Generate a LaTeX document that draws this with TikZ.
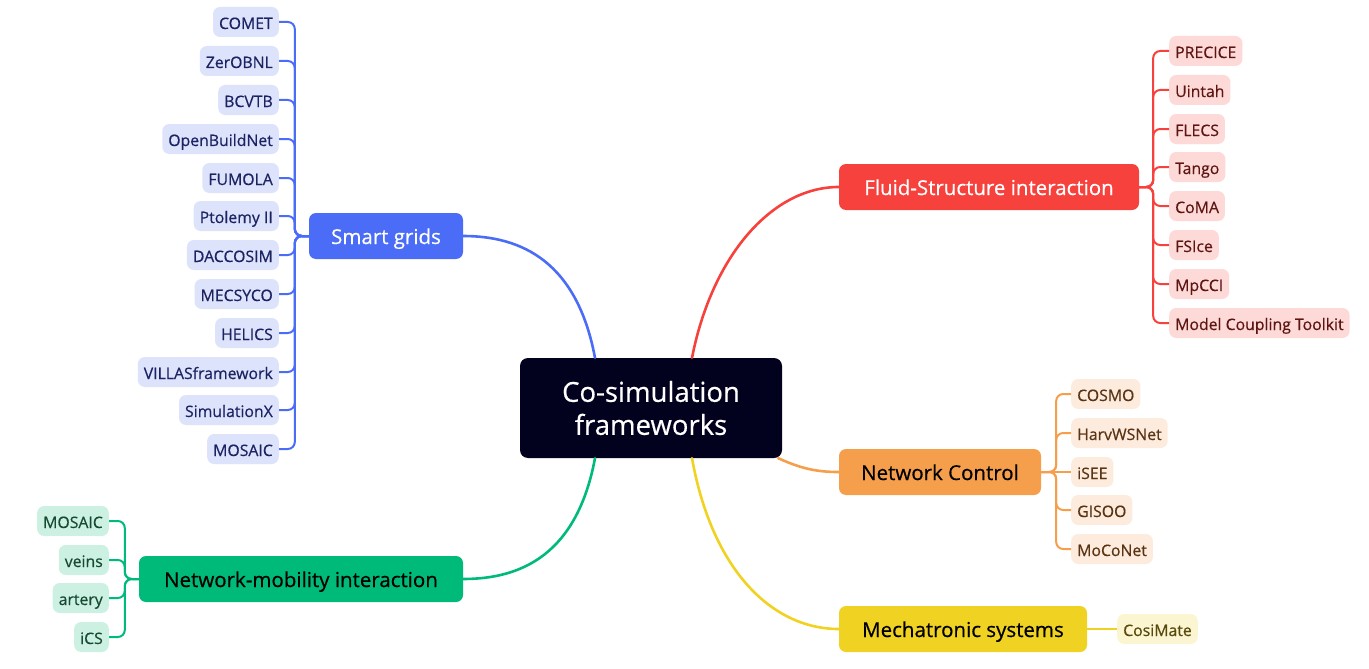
\documentclass[tikz,border=0pt]{standalone}
\usepackage{fontspec}
\setmainfont{Open Sans}[FakeBold=0.5]
\usetikzlibrary{calc}
\definecolor{navy}{HTML}{02021F}
\definecolor{sgblue}{HTML}{4A6CF7}
\definecolor{sgleaf}{HTML}{DDE3FB}
\definecolor{sgtext}{HTML}{1B2363}
\definecolor{fsired}{HTML}{F7413C}
\definecolor{fsileaf}{HTML}{FDDAD8}
\definecolor{fsitext}{HTML}{5E1512}
\definecolor{ncorange}{HTML}{F59F4C}
\definecolor{ncleaf}{HTML}{FDEBDD}
\definecolor{nctext}{HTML}{5A3413}
\definecolor{mechyellow}{HTML}{F0D322}
\definecolor{mechleaf}{HTML}{FCF5D2}
\definecolor{mechtext}{HTML}{574A0C}
\definecolor{nmigreen}{HTML}{00BA7A}
\definecolor{nmileaf}{HTML}{CCF1E3}
\definecolor{nmitext}{HTML}{164A33}
\tikzset{
  root/.style={
    fill=navy,
    text=white,
    rounded corners=8pt,
    align=center,
    minimum width=262pt,
    minimum height=100pt,
    font=\fontsize{27.5}{33}\selectfont
  },
  branch/.style={
    rounded corners=7pt,
    minimum height=46pt,
    inner sep=0pt,
    text height=18pt,
    text depth=2pt,
    font=\fontsize{20.5}{24}\selectfont
  },
  leaf/.style={
    rounded corners=7pt,
    minimum height=30pt,
    inner xsep=6pt,
    inner ysep=0pt,
    text height=15pt,
    text depth=1pt,
    font=\fontsize{15.8}{19}\selectfont
  },
  sgleafbox/.style={leaf, fill=sgleaf, text=sgtext, anchor=east},
  fsileafbox/.style={leaf, fill=fsileaf, text=fsitext, anchor=west},
  ncleafbox/.style={leaf, fill=ncleaf, text=nctext, anchor=west},
  mechleafbox/.style={leaf, fill=mechleaf, text=mechtext, anchor=west},
  nmileafbox/.style={leaf, fill=nmileaf, text=nmitext, anchor=east},
  mainline/.style={line width=2.6pt, line cap=round},
  leafline/.style={line width=2pt, rounded corners=7pt}
}

\begin{document}
\begin{tikzpicture}[x=1pt, y=-1pt]
\useasboundingbox (0,0) rectangle (1369,669);

\node[root] (centre) at (651,408) {Co-simulation\\frameworks};

% First-level topics
\node[branch, fill=sgblue, text=white, minimum width=154pt] (sg) at (386,236) {Smart grids};
\node[branch, fill=fsired, text=white, minimum width=300pt] (fsi) at (989,187) {Fluid-Structure interaction};
\node[branch, fill=ncorange, text=black, minimum width=202pt] (nc) at (940,472) {Network Control};
\node[branch, fill=mechyellow, text=black, minimum width=248pt] (mech) at (963,629) {Mechatronic systems};
\node[branch, fill=nmigreen, text=black, minimum width=324pt] (nmi) at (301,579) {Network-mobility interaction};

% Smart grids tools
\node[sgleafbox] (sg1) at (279,22) {COMET};
\node[sgleafbox] (sg2) at (279,61) {ZerOBNL};
\node[sgleafbox] (sg3) at (279,100) {BCVTB};
\node[sgleafbox] (sg4) at (279,139) {OpenBuildNet};
\node[sgleafbox] (sg5) at (279,178) {FUMOLA};
\node[sgleafbox] (sg6) at (279,216) {Ptolemy II};
\node[sgleafbox] (sg7) at (279,255) {DACCOSIM};
\node[sgleafbox] (sg8) at (279,294) {MECSYCO};
\node[sgleafbox] (sg9) at (279,333) {HELICS};
\node[sgleafbox] (sg10) at (279,372) {VILLASframework};
\node[sgleafbox] (sg11) at (279,410) {SimulationX};
\node[sgleafbox] (sg12) at (279,449) {MOSAIC};

% Fluid-structure tools
\node[fsileafbox] (fsi1) at (1169,51) {PRECICE};
\node[fsileafbox] (fsi2) at (1169,90) {Uintah};
\node[fsileafbox] (fsi3) at (1169,129) {FLECS};
\node[fsileafbox] (fsi4) at (1169,167) {Tango};
\node[fsileafbox] (fsi5) at (1169,206) {CoMA};
\node[fsileafbox] (fsi6) at (1169,245) {FSIce};
\node[fsileafbox] (fsi7) at (1169,284) {MpCCI};
\node[fsileafbox] (fsi8) at (1169,323) {Model Coupling Toolkit};

% Network control tools
\node[ncleafbox] (nc1) at (1071,394) {COSMO};
\node[ncleafbox] (nc2) at (1071,433) {HarvWSNet};
\node[ncleafbox] (nc3) at (1071,472) {iSEE};
\node[ncleafbox] (nc4) at (1071,510) {GISOO};
\node[ncleafbox] (nc5) at (1071,549) {MoCoNet};

% Mechatronic tools
\node[mechleafbox] (mech1) at (1117,629) {CosiMate};

% Network-mobility tools
\node[nmileafbox] (nmi1) at (109,521) {MOSAIC};
\node[nmileafbox] (nmi2) at (109,560) {veins};
\node[nmileafbox] (nmi3) at (109,598) {artery};
\node[nmileafbox] (nmi4) at (109,637) {iCS};

% Centre to topics
\draw[mainline, sgblue] ($(centre.north)+(-56,0)$) .. controls (577,262) and (522,236) .. (sg.east);
\draw[mainline, fsired] ($(centre.north)+(41,0)$) .. controls (712,256) and (772,187) .. (fsi.west);
\draw[mainline, ncorange] ($(centre.south east)+(-4,0)$) .. controls (800,468) and (815,472) .. (nc.west);
\draw[mainline, mechyellow] ($(centre.south)+(41,0)$) .. controls (712,570) and (772,629) .. (mech.west);
\draw[mainline, nmigreen] ($(centre.south)+(-56,0)$) .. controls (577,554) and (522,579) .. (nmi.east);

% Topics to tools
\draw[leafline, sgblue] (sg.west) -- ++(-14,0) |- (sg1.east);
\draw[leafline, sgblue] (sg.west) -- ++(-14,0) |- (sg2.east);
\draw[leafline, sgblue] (sg.west) -- ++(-14,0) |- (sg3.east);
\draw[leafline, sgblue] (sg.west) -- ++(-14,0) |- (sg4.east);
\draw[leafline, sgblue] (sg.west) -- ++(-14,0) |- (sg5.east);
\draw[leafline, sgblue] (sg.west) -- ++(-14,0) |- (sg6.east);
\draw[leafline, sgblue] (sg.west) -- ++(-14,0) |- (sg7.east);
\draw[leafline, sgblue] (sg.west) -- ++(-14,0) |- (sg8.east);
\draw[leafline, sgblue] (sg.west) -- ++(-14,0) |- (sg9.east);
\draw[leafline, sgblue] (sg.west) -- ++(-14,0) |- (sg10.east);
\draw[leafline, sgblue] (sg.west) -- ++(-14,0) |- (sg11.east);
\draw[leafline, sgblue] (sg.west) -- ++(-14,0) |- (sg12.east);

\draw[leafline, fsired] (fsi.east) -- ++(14,0) |- (fsi1.west);
\draw[leafline, fsired] (fsi.east) -- ++(14,0) |- (fsi2.west);
\draw[leafline, fsired] (fsi.east) -- ++(14,0) |- (fsi3.west);
\draw[leafline, fsired] (fsi.east) -- ++(14,0) |- (fsi4.west);
\draw[leafline, fsired] (fsi.east) -- ++(14,0) |- (fsi5.west);
\draw[leafline, fsired] (fsi.east) -- ++(14,0) |- (fsi6.west);
\draw[leafline, fsired] (fsi.east) -- ++(14,0) |- (fsi7.west);
\draw[leafline, fsired] (fsi.east) -- ++(14,0) |- (fsi8.west);

\draw[leafline, ncorange] (nc.east) -- ++(15,0) |- (nc1.west);
\draw[leafline, ncorange] (nc.east) -- ++(15,0) |- (nc2.west);
\draw[leafline, ncorange] (nc.east) -- (nc3.west);
\draw[leafline, ncorange] (nc.east) -- ++(15,0) |- (nc4.west);
\draw[leafline, ncorange] (nc.east) -- ++(15,0) |- (nc5.west);

\draw[leafline, mechyellow] (mech.east) -- (mech1.west);

\draw[leafline, nmigreen] (nmi.west) -- ++(-14,0) |- (nmi1.east);
\draw[leafline, nmigreen] (nmi.west) -- ++(-14,0) |- (nmi2.east);
\draw[leafline, nmigreen] (nmi.west) -- ++(-14,0) |- (nmi3.east);
\draw[leafline, nmigreen] (nmi.west) -- ++(-14,0) |- (nmi4.east);

\end{tikzpicture}
\end{document}
